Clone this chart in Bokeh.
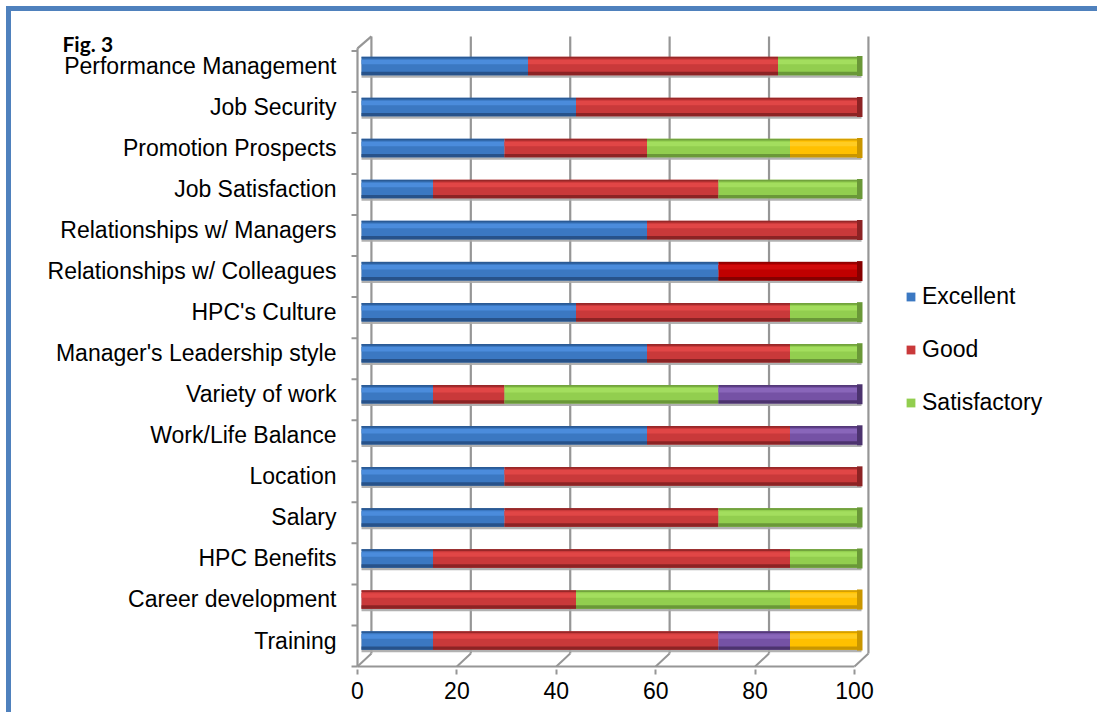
import numpy as np
from bokeh.plotting import figure
from bokeh.models import (ColumnDataSource, Range1d, LinearAxis, FixedTicker,
                          Legend, LegendItem, Label)
from bokeh.embed import file_html
from bokeh.resources import INLINE

# ---- data: share of respondents (%) per rating, bottom row first ----
categories = ["Training", "Career development", "HPC Benefits", "Salary", "Location",
              "Work/Life Balance", "Variety of work", "Manager's Leadership style",
              "HPC's Culture", "Relationships w/ Colleagues", "Relationships w/ Managers",
              "Job Satisfaction", "Promotion Prospects", "Job Security",
              "Performance Management"]
excellent    = [14.3, 0.0, 14.3, 28.6, 28.6, 57.1, 14.3, 57.1, 42.9, 71.4, 57.1, 14.3, 28.6, 42.9, 33.3]
good         = [57.1, 42.9, 71.4, 42.8, 71.4, 28.6, 14.3, 28.6, 42.8, 28.6, 42.9, 57.1, 28.5, 57.1, 50.0]
satisfactory = [0.0, 42.8, 14.3, 28.6, 0.0, 0.0, 42.8, 14.3, 14.3, 0.0, 0.0, 28.6, 28.6, 0.0, 16.7]
poor         = [14.3, 0.0, 0.0, 0.0, 0.0, 14.3, 28.6, 0.0, 0.0, 0.0, 0.0, 0.0, 0.0, 0.0, 0.0]
very_poor    = [14.3, 14.3, 0.0, 0.0, 0.0, 0.0, 0.0, 0.0, 0.0, 0.0, 0.0, 0.0, 14.3, 0.0, 0.0]
series_names = ["Excellent", "Good", "Satisfactory", "Poor", "Very poor"]
x_ticks = [0, 20, 40, 60, 80, 100]

# colour sets: (base, highlight, shade)
palette = [
    ("#3B78C2", "#4B8CDC", "#27528A"),
    ("#C9393A", "#E14646", "#8C2324"),
    ("#92CE4F", "#A3DE5E", "#6A9838"),
    ("#7552A5", "#8966BA", "#4C336E"),
    ("#FFC000", "#FFCC22", "#C99600"),
]
accent_red = ("#C00000", "#D20A0A", "#860000")   # colleagues row, Good segment

PX = 1 / 41.04          # one pixel in row units
BAR_H = 18.5 * PX

p = figure(width=1097, height=712, output_backend="svg", toolbar_location=None,
           x_range=Range1d(-3.2, 145.8), y_range=Range1d(-0.7066, 14.8635),
           x_axis_location=None,
           min_border_left=345, min_border_right=7, min_border_top=30,
           min_border_bottom=43)
p.outline_line_color = None
p.background_fill_color = "white"
p.border_fill_color = None
p.xgrid.visible = False
p.ygrid.visible = False
# blue page frame along the top and left edges
p.styles = {"background-color": "#ffffff",
            "box-shadow": "inset 6px 6px 0 0 #ffffff, inset 11px 11px 0 0 #4F81BD"}

# front plane of the 3-D box has its own x scale
p.extra_x_ranges = {"front": Range1d(-2.414, 147.48)}

GRID = "#969696"
DX = 2.8                         # depth offset, front units
FRONT_FLOOR, BACK_FLOOR = -0.6335, -0.3168
FRONT_TOP, BACK_TOP = 14.43, 14.72

# back wall grid lines
p.segment(x0=[v + DX for v in x_ticks], y0=BACK_FLOOR, x1=[v + DX for v in x_ticks], y1=BACK_TOP,
          line_color=GRID, line_width=2.2, x_range_name="front")
# floor depth lines
p.segment(x0=x_ticks, y0=FRONT_FLOOR, x1=[v + DX for v in x_ticks], y1=BACK_FLOOR,
          line_color=GRID, line_width=2, x_range_name="front")
# floor front edge, left wall edge and its top
p.segment(x0=[0, 0, 0], y0=[FRONT_FLOOR, FRONT_FLOOR, FRONT_TOP],
          x1=[100, 0, DX], y1=[FRONT_FLOOR, FRONT_TOP, BACK_TOP],
          line_color=GRID, line_width=2.2, x_range_name="front")
# category separator ticks on the left wall
sep = [k - 0.633 for k in range(len(categories) + 1)]
p.segment(x0=-1.2, y0=sep, x1=0, y1=sep, line_color=GRID, line_width=2, x_range_name="front")

# ---- stacked cylinders ----
values = np.array([excellent, good, satisfactory, poor, very_poor])
rights = np.cumsum(values, axis=0)
lefts = rights - values
ypos = np.arange(len(categories))

# soft shadow under each bar
p.hbar(y=ypos - 2.5 * PX, left=0, right=rights[-1], height=BAR_H,
       fill_color="#A8A8A8", line_color=None, fill_alpha=0.9)

base_renderers = []
for s, name in enumerate(series_names):
    keep = values[s] > 0
    cols = [accent_red if (s == 1 and categories[i] == "Relationships w/ Colleagues") else palette[s]
            for i in range(len(categories))]
    yk = ypos[keep]
    src = ColumnDataSource(dict(
        y=yk, y_hi=yk + 4.0 * PX, y_rim=yk + 8.4 * PX, y_lo=yk - 7.6 * PX,
        left=lefts[s][keep], right=rights[s][keep],
        base=[c[0] for c, k in zip(cols, keep) if k],
        light=[c[1] for c, k in zip(cols, keep) if k],
        dark=[c[2] for c, k in zip(cols, keep) if k],
    ))
    r = p.hbar(y="y", left="left", right="right", height=BAR_H, source=src,
               fill_color="base", line_color=None)
    base_renderers.append(r)
    # highlight band
    p.hbar(y="y_hi", left="left", right="right", height=4.5 * PX,
           source=src, fill_color="light", line_color=None)
    # top rim
    p.hbar(y="y_rim", left="left", right="right", height=1.8 * PX,
           source=src, fill_color="dark", line_color=None, fill_alpha=0.8)
    # lower shade
    p.hbar(y="y_lo", left="left", right="right", height=3.4 * PX,
           source=src, fill_color="dark", line_color=None)

# end caps on the last segment of each bar
last = [max(s for s in range(len(series_names)) if values[s][i] > 0) for i in range(len(categories))]
cap_cols = [accent_red[2] if (last[i] == 1 and categories[i] == "Relationships w/ Colleagues")
            else palette[last[i]][2] for i in range(len(categories))]
p.hbar(y=ypos, left=rights[-1] - 0.9, right=rights[-1] + 0.2, height=BAR_H + 1.5 * PX,
       fill_color=cap_cols, line_color=None)

# ---- axes ----
FONT = "Liberation Sans"
p.yaxis.ticker = FixedTicker(ticks=list(range(len(categories))))
p.yaxis.major_label_overrides = {i: c for i, c in enumerate(categories)}
p.yaxis.axis_line_color = None
p.yaxis.major_tick_out = 0
p.yaxis.major_tick_in = 0
p.yaxis.minor_tick_out = 0
p.yaxis.minor_tick_in = 0
p.yaxis.major_label_standoff = 9
p.yaxis.major_label_text_font = FONT
p.yaxis.major_label_text_font_size = "23px"
p.yaxis.major_label_text_color = "#000000"

xaxis = LinearAxis(x_range_name="front", ticker=FixedTicker(ticks=x_ticks))
xaxis.axis_line_color = None
xaxis.major_tick_out = 5
xaxis.major_tick_in = 0
xaxis.minor_tick_out = 0
xaxis.minor_tick_in = 0
xaxis.major_tick_line_color = GRID
xaxis.major_tick_line_width = 2
xaxis.major_label_standoff = 7
xaxis.major_label_text_font = FONT
xaxis.major_label_text_font_size = "23px"
xaxis.major_label_text_color = "#000000"
p.add_layout(xaxis, "below")

# ---- legend ----
legend = Legend(items=[LegendItem(label=series_names[i], renderers=[base_renderers[i]]) for i in range(3)],
                location=(560, 253), orientation="vertical",
                glyph_width=11, glyph_height=11, label_standoff=6, spacing=26,
                label_text_font=FONT, label_text_font_size="23px", label_text_color="#000000",
                padding=0, margin=0, border_line_color=None, background_fill_alpha=0)
p.add_layout(legend)

# ---- caption (in the top panel, so it is not clipped to the plot area) ----
p.add_layout(Label(x=-59.8, y=14.55, text="Fig. 3", text_font="Lato", text_font_style="bold",
                   text_font_size="21px", text_color="#000000", text_baseline="middle"), "above")

open("out.html", "w").write(file_html(p, INLINE))
